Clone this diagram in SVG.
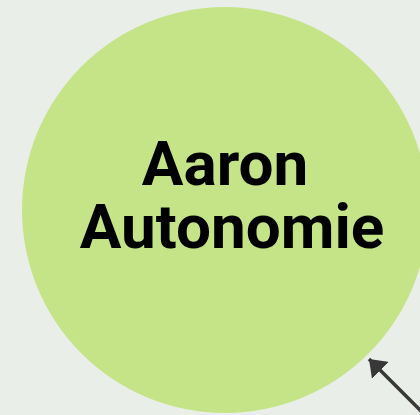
<svg xmlns="http://www.w3.org/2000/svg" width="420" height="415" viewBox="0 0 420 415">
  <style>
    .bg { fill: #e9eee8; }
    .node-circle { fill: #c4e487; }
    .label { font-family: Roboto, "Liberation Sans", sans-serif; font-weight: 700; font-size: 62px; fill: #000; text-anchor: middle; }
    .edge { stroke: #383838; stroke-width: 3.5; fill: none; }
  </style>
  <defs>
    <marker id="arrow" viewBox="0 0 10 10" refX="10" refY="5" markerWidth="4.6" markerHeight="6.8" markerUnits="strokeWidth" orient="auto" preserveAspectRatio="none">
      <path d="M0,0 L10,5 L0,10 Z" fill="#383838"/>
    </marker>
  </defs>
  <rect class="bg" x="0" y="0" width="420" height="415"/>
  <g id="node-aaron">
    <circle class="node-circle" cx="225" cy="210" r="203"/>
    <text class="label" x="225" y="185">Aaron</text>
    <text class="label" x="232" y="248">Autonomie</text>
  </g>
  <g id="connectors">
    <line class="edge" x1="425" y1="415" x2="369" y2="359" marker-end="url(#arrow)"/>
  </g>
</svg>
